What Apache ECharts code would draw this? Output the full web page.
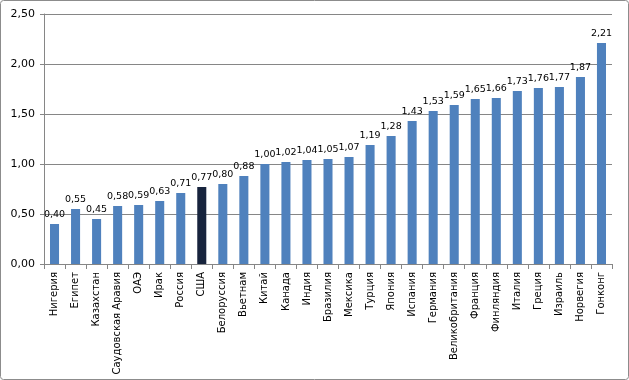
<!DOCTYPE html>
<html><head><meta charset="utf-8">
<script src="https://cdn.jsdelivr.net/npm/echarts@6/dist/echarts.min.js"></script>
<style>html,body{margin:0;padding:0;background:#fff}#c{width:629px;height:380px}</style>
</head><body><div id="c"></div>
<script>
const categories = ['Нигерия','Египет','Казахстан','Саудовская Аравия','ОАЭ','Ирак','Россия','США','Белоруссия','Вьетнам','Китай','Канада','Индия','Бразилия','Мексика','Турция','Япония','Испания','Германия','Великобритания','Франция','Финляндия','Италия','Греция','Израиль','Норвегия','Гонконг'];
const values = [0.40,0.55,0.45,0.58,0.59,0.63,0.71,0.77,0.80,0.88,1.00,1.02,1.04,1.05,1.07,1.19,1.28,1.43,1.53,1.59,1.65,1.66,1.73,1.76,1.77,1.87,2.21];
const highlight = 'США';
const yTicks = [0, 0.5, 1.0, 1.5, 2.0, 2.5];

const fmt = v => v.toFixed(2).replace('.', ',');
const chart = echarts.init(document.getElementById('c'));
chart.setOption({
  animation: false,
  graphic: [{type:'rect', shape:{x:0.5,y:0.5,width:628,height:379,r:3}, style:{fill:'none',stroke:'#8c8c8c',lineWidth:1}}],
  grid: {left:44, right:17, top:14, bottom:116, containLabel:false, outerBoundsMode:'none'},
  xAxis: {
    type:'category', data:categories,
    axisLine:{lineStyle:{color:'#868686'}},
    axisTick:{show:true, length:5, lineStyle:{color:'#868686'}},
    axisLabel:{rotate:90, interval:0, color:'#000', fontFamily:'DejaVu Sans', fontSize:10, margin:8}
  },
  yAxis: {
    type:'value', min:yTicks[0], max:yTicks[yTicks.length-1], interval:0.5,
    axisLine:{show:true, lineStyle:{color:'#868686'}},
    axisTick:{show:true, length:4, lineStyle:{color:'#868686'}},
    splitLine:{lineStyle:{color:'#868686'}},
    axisLabel:{formatter:v=>fmt(v), color:'#000', fontFamily:'DejaVu Sans', fontSize:11, margin:9}
  },
  series: [{
    type:'bar', barWidth:'43%',
    data: values.map((v,i)=>({value:v, itemStyle:{color: categories[i]===highlight ? '#17243D' : '#4F81BD'}})),
    label:{show:true, position:'top', formatter:p=>fmt(p.value), color:'#000', fontFamily:'DejaVu Sans', fontSize:9.5, distance:4}
  }]
});
</script></body></html>
